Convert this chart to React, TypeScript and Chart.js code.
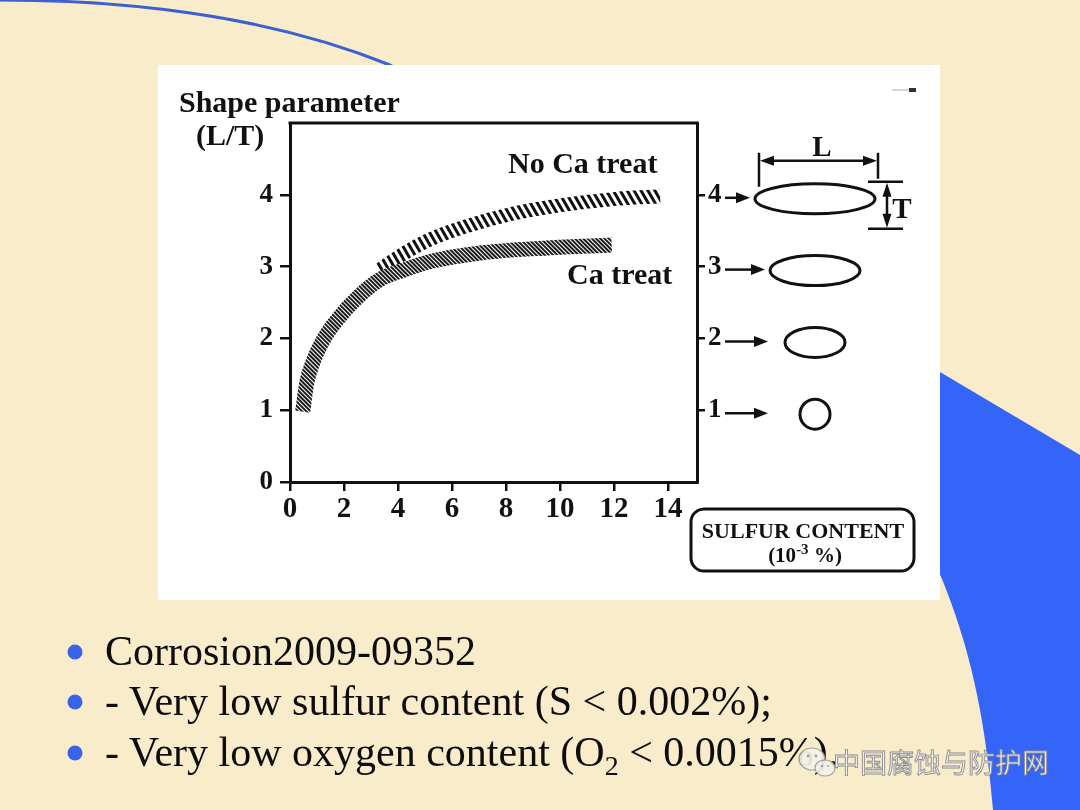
import React, { useEffect, useRef } from 'react';
import { Chart, registerables } from 'chart.js';

Chart.register(...registerables);

// ---- data ----
const xTicks = [0, 2, 4, 6, 8, 10, 12, 14];
const yTicks = [0, 1, 2, 3, 4];
const shapeTicks = [1, 2, 3, 4];

const caTreatX = [0.47, 0.62, 0.86, 1.23, 1.79, 2.47, 3.33, 4.2, 5.19, 7.04, 9.51, 11.91];
const caTreatY = [0.98, 1.38, 1.68, 1.98, 2.28, 2.56, 2.82, 2.95, 3.07, 3.19, 3.26, 3.3];

const noCaX = [3.3, 4.2, 5.19, 6.42, 8.27, 10.12, 11.98, 13.7];
const noCaY = [2.95, 3.18, 3.38, 3.55, 3.74, 3.86, 3.94, 3.98];

const SERIF = '"Liberation Serif", "Times New Roman", serif';
const INK = '#111';

function stripePattern(ctx: CanvasRenderingContext2D, period: number, ink: number, color: string, angle: number) {
  const c = document.createElement('canvas');
  c.width = period;
  c.height = period;
  const g = c.getContext('2d')!;
  g.fillStyle = '#ffffff';
  g.fillRect(0, 0, period, period);
  g.fillStyle = color;
  g.fillRect(0, 0, ink, period);
  const p = ctx.createPattern(c, 'repeat')!;
  p.setTransform(new DOMMatrix().rotate(angle));
  return p;
}

function arrowHead(ctx: CanvasRenderingContext2D, x: number, y: number, dx: number, dy: number, len = 13, half = 5) {
  const px = -dy, py = dx;
  ctx.beginPath();
  ctx.moveTo(x, y);
  ctx.lineTo(x - dx * len + px * half, y - dy * len + py * half);
  ctx.lineTo(x - dx * len - px * half, y - dy * len - py * half);
  ctx.closePath();
  ctx.fill();
}

const decorPlugin = {
  id: 'decor',
  afterDraw(chart: any) {
    const { ctx, chartArea: a } = chart;
    const s = chart.scales.y2;
    ctx.save();
    ctx.strokeStyle = INK;
    ctx.fillStyle = INK;
    // top frame line
    ctx.lineWidth = 3;
    ctx.beginPath();
    ctx.moveTo(a.left - 1.5, a.top);
    ctx.lineTo(a.right + 1.5, a.top);
    ctx.stroke();

    const T = 30;
    const cx = a.right + 118;
    shapeTicks.forEach((v) => {
      const ty = s.getPixelForValue(v);
      const cy = ty + 4;
      const rx = (v * T) / 2;
      const ry = T / 2;
      ctx.lineWidth = 3;
      ctx.beginPath();
      ctx.ellipse(cx, cy, rx, ry, 0, 0, Math.PI * 2);
      ctx.stroke();
      const x0 = a.right + 28;
      const x1 = Math.min(cx - rx - 5, a.right + 71);
      const ay = ty + 3;
      ctx.lineWidth = 2.5;
      ctx.beginPath();
      ctx.moveTo(x0, ay);
      ctx.lineTo(x1 - 8, ay);
      ctx.stroke();
      arrowHead(ctx, x1, ay, 1, 0, 14, 5.5);
    });

    // L and T dimension marks on the largest ellipse
    const v = shapeTicks[shapeTicks.length - 1];
    const cy4 = s.getPixelForValue(v) + 4;
    const rx4 = (v * T) / 2;
    const left = cx - rx4 + 4;
    const right = cx + rx4 + 3;
    ctx.lineWidth = 2.5;
    ctx.beginPath();
    ctx.moveTo(left, cy4 - 46);
    ctx.lineTo(left, cy4 - 12);
    ctx.moveTo(right, cy4 - 46);
    ctx.lineTo(right, cy4 - 20);
    const hy = cy4 - 38;
    ctx.moveTo(left + 10, hy);
    ctx.lineTo(right - 10, hy);
    ctx.stroke();
    arrowHead(ctx, left + 1, hy, -1, 0, 14, 5);
    arrowHead(ctx, right - 1, hy, 1, 0, 14, 5);

    const ty1 = cy4 - 17;
    const ty2 = cy4 + 30;
    ctx.beginPath();
    ctx.moveTo(right - 10, ty1);
    ctx.lineTo(right + 25, ty1);
    ctx.moveTo(right - 10, ty2);
    ctx.lineTo(right + 25, ty2);
    const vx = right + 9;
    ctx.moveTo(vx, ty1 + 10);
    ctx.lineTo(vx, ty2 - 10);
    ctx.stroke();
    arrowHead(ctx, vx, ty1 + 1, 0, -1, 14, 4.5);
    arrowHead(ctx, vx, ty2 - 1, 0, 1, 14, 4.5);
    ctx.restore();
  },
};

export default function App() {
  const ref = useRef<HTMLCanvasElement>(null);

  useEffect(() => {
    document.body.style.margin = '0';
    const canvas = ref.current!;
    const ctx = canvas.getContext('2d')!;
    const caPattern = stripePattern(ctx, 3, 2, '#1a1a1a', -45);
    const noCaPattern = stripePattern(ctx, 6, 3, '#111111', -30);
    const tickFont = (size: number) => ({ family: SERIF, size, weight: 'bold' as const });

    const chart = new Chart(ctx, {
      type: 'line',
      data: {
        datasets: [
          {
            label: 'Ca treat',
            data: caTreatX.map((x, i) => ({ x, y: caTreatY[i] })),
            borderColor: caPattern as any,
            borderWidth: 15,
            borderCapStyle: 'butt',
            borderJoinStyle: 'round',
            pointRadius: 0,
            cubicInterpolationMode: 'monotone',
            fill: false,
            order: 1,
          },
          {
            label: 'No Ca treat',
            data: noCaX.map((x, i) => ({ x, y: noCaY[i] })),
            borderColor: noCaPattern as any,
            borderWidth: 14,
            borderCapStyle: 'butt',
            borderJoinStyle: 'round',
            pointRadius: 0,
            cubicInterpolationMode: 'monotone',
            fill: false,
            order: 2,
          },
        ],
      },
      options: {
        animation: false,
        responsive: false,
        events: [],
        layout: { padding: { top: 58, left: 0, right: 0, bottom: 0 } },
        plugins: { legend: { display: false }, tooltip: { enabled: false } },
        scales: {
          x: {
            type: 'linear',
            position: 'bottom',
            min: 0,
            max: 15.07,
            afterBuildTicks: (sc: any) => {
              sc.ticks = xTicks.map((value) => ({ value }));
            },
            afterFit: (sc: any) => {
              sc.height = 118;
            },
            grid: { drawOnChartArea: false, drawTicks: true, tickLength: 9, color: INK, lineWidth: 2.5 },
            border: { display: true, color: INK, width: 3 },
            ticks: { color: INK, font: tickFont(29), padding: 1, maxRotation: 0, autoSkip: false },
          },
          y: {
            type: 'linear',
            position: 'left',
            min: 0,
            max: 5,
            afterBuildTicks: (sc: any) => {
              sc.ticks = yTicks.map((value) => ({ value }));
            },
            afterFit: (sc: any) => {
              sc.width = 132;
            },
            grid: { drawOnChartArea: false, drawTicks: true, tickLength: 10, color: INK, lineWidth: 2.5 },
            border: { display: true, color: INK, width: 3 },
            ticks: { color: INK, font: tickFont(27), padding: 7, autoSkip: false },
          },
          y2: {
            type: 'linear',
            position: 'right',
            min: 0,
            max: 5,
            afterBuildTicks: (sc: any) => {
              sc.ticks = shapeTicks.map((value) => ({ value }));
            },
            afterFit: (sc: any) => {
              sc.width = 243;
            },
            grid: { drawOnChartArea: false, drawTicks: true, tickLength: 8, color: INK, lineWidth: 2.5 },
            border: { display: true, color: INK, width: 3 },
            ticks: { color: INK, font: tickFont(27), padding: 3, autoSkip: false },
          },
        },
      },
      plugins: [decorPlugin],
    });
    return () => chart.destroy();
  }, []);

  const serifBold = { fontFamily: SERIF, fontWeight: 700 as const, fill: INK };

  return (
    <div
      style={{
        position: 'relative',
        width: 1080,
        height: 810,
        overflow: 'hidden',
        background: '#f9ecca',
      }}
    >
      <svg width={1080} height={810} style={{ position: 'absolute', left: 0, top: 0 }}>
        <path d="M 1080 455 L 940 372 L 925 372 L 925 540 C 972 640 985 720 993 810 L 1080 810 Z" fill="#3465f8" />
        <path d="M -2 0 Q 229 0 390 65 L 430 85" fill="none" stroke="#3c5fd4" strokeWidth={3} />
      </svg>

      <div
        style={{
          position: 'absolute',
          left: 158,
          top: 65,
          width: 782,
          height: 535,
          background: '#ffffff',
        }}
      >
        <canvas ref={ref} width={782} height={535} style={{ display: 'block', width: 782, height: 535 }} />
      </div>

      <svg width={1080} height={810} style={{ position: 'absolute', left: 0, top: 0, pointerEvents: 'none' }}>
        {/* chart annotations */}
        <text x={179} y={112} fontSize={30} {...serifBold}>Shape parameter</text>
        <text x={196} y={145} fontSize={30} {...serifBold}>(L/T)</text>
        <text x={508} y={173} fontSize={30} {...serifBold}>No Ca treat</text>
        <text x={567} y={284} fontSize={30} {...serifBold}>Ca treat</text>
        <text x={822} y={156} fontSize={29} textAnchor="middle" {...serifBold}>L</text>
        <text x={902} y={218} fontSize={29} textAnchor="middle" {...serifBold}>T</text>
        <line x1={892} y1={90} x2={911} y2={90} stroke="#c8c8c8" strokeWidth={1.5} />
        <rect x={909} y={88} width={7} height={4} fill="#333" />

        {/* sulfur content label box */}
        <rect x={691} y={509} width={223} height={62} rx={13} ry={13} fill="#fff" stroke={INK} strokeWidth={3} />
        <text x={803} y={538} fontSize={22} textAnchor="middle" {...serifBold}>SULFUR CONTENT</text>
        <text x={805} y={562} fontSize={21} textAnchor="middle" {...serifBold}>
          (10<tspan fontSize={15} dy={-8}>-3</tspan>
          <tspan dy={8}> %)</tspan>
        </text>

        {/* slide bullets */}
        <g fontFamily={SERIF} fontSize={42} fill="#0d0d0d">
          <circle cx={75} cy={652} r={7.5} fill="#3a63ea" />
          <text x={105} y={665}>Corrosion2009-09352</text>
          <circle cx={75} cy={702} r={7.5} fill="#3a63ea" />
          <text x={105} y={715}>- Very low sulfur content (S &lt; 0.002%);</text>
          <circle cx={75} cy={753} r={7.5} fill="#3a63ea" />
          <text x={105} y={766}>
            - Very low oxygen content (O<tspan fontSize={28} dy={9}>2</tspan>
            <tspan dy={-9}> &lt; 0.0015%).</tspan>
          </text>
        </g>

        {/* watermark */}
        <g opacity={0.92}>
          <ellipse cx={812} cy={759} rx={13} ry={11} fill="#f4f1ea" stroke="#9a9a9a" strokeWidth={1.2} />
          <ellipse cx={825} cy={768} rx={10} ry={8} fill="#f4f1ea" stroke="#9a9a9a" strokeWidth={1.2} />
          <circle cx={808} cy={756} r={1.4} fill="#9a9a9a" />
          <circle cx={816} cy={756} r={1.4} fill="#9a9a9a" />
          <circle cx={822} cy={766} r={1.1} fill="#9a9a9a" />
          <circle cx={828} cy={766} r={1.1} fill="#9a9a9a" />
        </g>
        <text
          x={833}
          y={773}
          fontSize={27}
          fontFamily='"Noto Sans CJK SC", sans-serif'
          fill="#f6f6f6"
          stroke="#8c8c8c"
          strokeWidth={0.9}
        >
          中国腐蚀与防护网
        </text>
      </svg>
    </div>
  );
}
